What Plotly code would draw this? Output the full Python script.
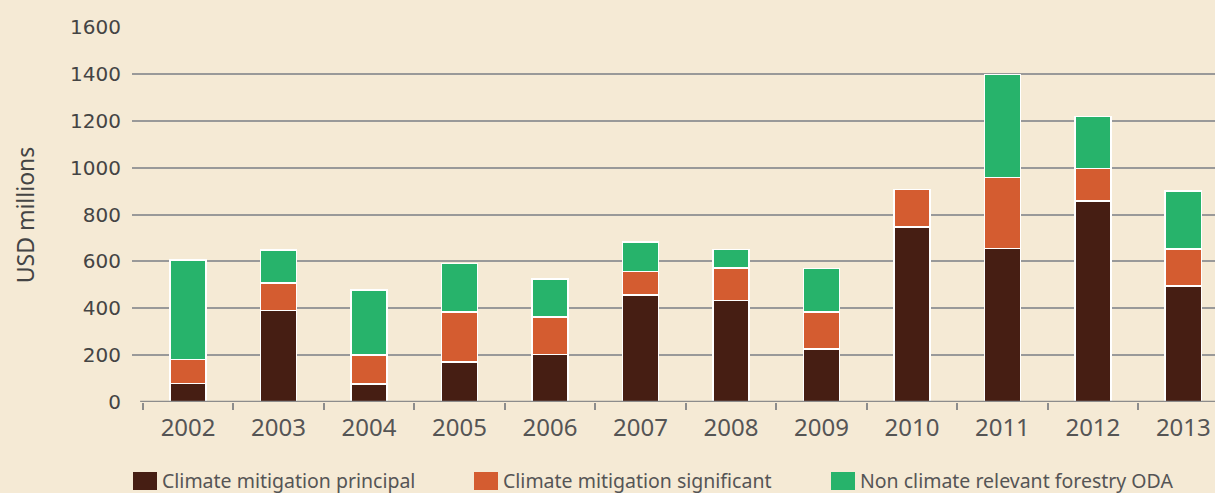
import plotly.graph_objects as go

years = ["2002", "2003", "2004", "2005", "2006", "2007", "2008", "2009", "2010", "2011", "2012", "2013"]
principal = [80, 390, 76, 170, 202, 456, 433, 227, 747, 656, 857, 494]
significant = [102, 117, 124, 214, 161, 101, 139, 157, 159, 301, 140, 159]
non_climate = [424, 142, 278, 206, 162, 126, 79, 186, 0, 441, 221, 247]

series_names = ["Climate mitigation principal", "Climate mitigation significant", "Non climate relevant forestry ODA"]
colors = ["#461E13", "#D45C30", "#27B36B"]
y_ticks = [0, 200, 400, 600, 800, 1000, 1200, 1400, 1600]

BG = "#F5EAD5"
GRID = "#999999"
TXT = "#444444"
TXT2 = "#555555"

fig = go.Figure()
for name, vals, col in zip(series_names, [principal, significant, non_climate], colors):
    fig.add_trace(go.Bar(
        x=years, y=vals, name=name, marker_color=col,
        marker_line_color="white", marker_line_width=1.5,
        showlegend=False,
    ))

fig.update_layout(
    width=1215, height=493,
    barmode="stack", bargap=0.6,
    paper_bgcolor=BG, plot_bgcolor=BG,
    margin=dict(l=132, r=0, t=27, b=91),
    font=dict(family="DejaVu Sans", color=TXT),
)
fig.update_yaxes(
    range=[0, 1600], tickvals=y_ticks, showgrid=True, gridcolor=GRID, gridwidth=2,
    zeroline=False, showline=False, ticks="", ticklabelstandoff=10,
    tickfont=dict(size=20, family="DejaVu Sans", color=TXT),
)
fig.update_xaxes(
    range=[-0.62, 11.35], showgrid=False, showline=False, zeroline=False,
    ticks="outside", tickson="boundaries", ticklen=7, tickwidth=2, tickcolor="#8c8c8c",
    ticklabelstandoff=9,
    tickfont=dict(size=24, family="Noto Sans", color=TXT2),
)
# baseline axis line
fig.add_shape(type="line", xref="x", yref="y", x0=-0.53, x1=11.5, y0=0, y1=0,
              line=dict(color="#8c8c8c", width=2.5), layer="above")

# y title
fig.add_annotation(text="USD millions", xref="paper", yref="paper", x=-0.099, y=0.5,
                   textangle=-90, showarrow=False, xanchor="center", yanchor="middle",
                   font=dict(size=23, family="Noto Sans", color=TXT))

# manual legend
leg_x = [133, 474, 831]
for lx, name, col in zip(leg_x, series_names, colors):
    px0 = (lx - 132) / 1083
    px1 = (lx + 24 - 132) / 1083
    fig.add_shape(type="rect", xref="paper", yref="paper",
                  x0=px0, x1=px1, y0=(402 - 490) / 375, y1=(402 - 472) / 375,
                  fillcolor=col, line=dict(width=0))
    fig.add_annotation(text=name, xref="paper", yref="paper",
                       x=(lx + 28 - 132) / 1083, y=(402 - 480) / 375,
                       xanchor="left", yanchor="middle", showarrow=False, borderpad=0,
                       font=dict(size=19.5, family="Noto Sans", color=TXT2))

fig.write_html("out.html", config={"displayModeBar": False},
               post_script="document.body.style.margin='0';document.body.style.overflow='hidden';")
